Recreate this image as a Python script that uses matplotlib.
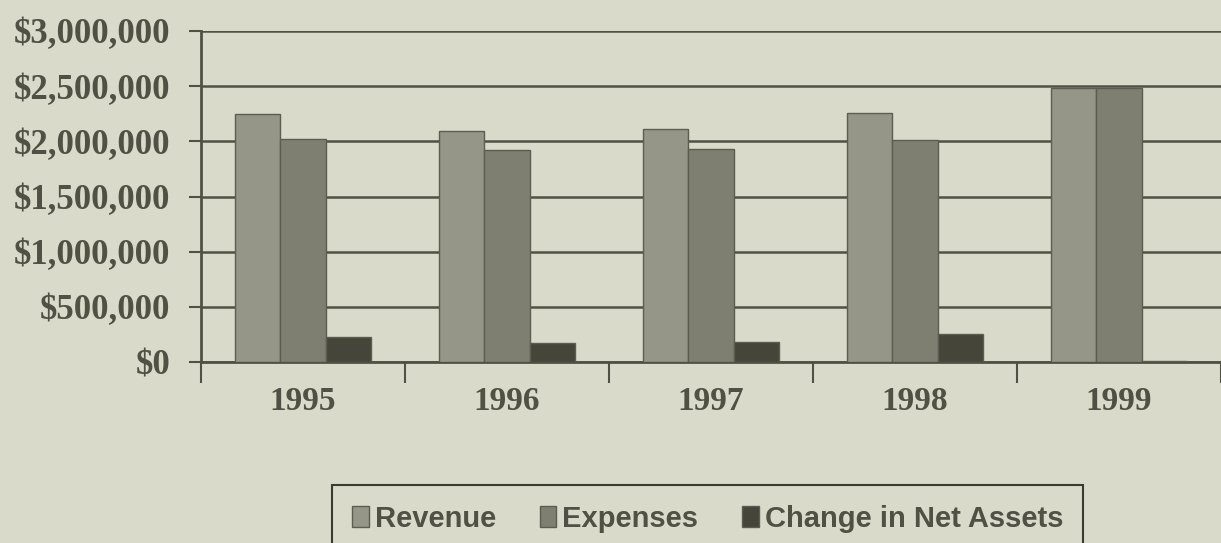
import matplotlib
matplotlib.use("Agg")
import matplotlib.pyplot as plt
import numpy as np
from matplotlib.ticker import FuncFormatter, FixedLocator

years = ["1995", "1996", "1997", "1998", "1999"]
revenue = [2250000, 2090000, 2110000, 2260000, 2480000]
expenses = [2020000, 1920000, 1930000, 2010000, 2480000]
change_net_assets = [230000, 170000, 180000, 250000, 10000]
series_names = ["Revenue", "Expenses", "Change in Net Assets"]

bg = "#dadaca"
ink = "#505044"
colors = ["#959688", "#7e7f71", "#45453a"]

fig = plt.figure(figsize=(12.21, 5.43), dpi=100, facecolor=bg)
ax = fig.add_axes([201/1221, 181/543, 1020/1221, 331/543])
ax.set_facecolor(bg)

x = np.arange(len(years))
w = 0.222
data = [revenue, expenses, change_net_assets]
handles = []
for k, (vals, c, name) in enumerate(zip(data, colors, series_names)):
    b = ax.bar(x + (k - 1) * w, vals, width=w, color=c, edgecolor="#5c5c50",
               linewidth=1.0, label=name, zorder=3)
    handles.append(b)

ax.set_xlim(-0.5, len(years) - 0.5)
ax.set_ylim(0, 3000000)
ax.yaxis.set_major_locator(FixedLocator(np.arange(0, 3000001, 500000)))
ax.yaxis.set_major_formatter(FuncFormatter(lambda v, p: f"${v:,.0f}"))
ax.grid(axis="y", color=ink, linewidth=1.8, zorder=0)
ax.set_axisbelow(True)

ax.set_xticks(x)
ax.set_xticklabels(years)
ax.set_xticks(np.arange(-0.5, len(years)), minor=True)
ax.tick_params(axis="x", which="major", length=0, pad=17)
ax.tick_params(axis="x", which="minor", length=15, width=1.5, color=ink, direction="out")
ax.tick_params(axis="y", length=9, width=1.5, color=ink, direction="out", pad=13)

serif = ["Liberation Serif", "DejaVu Serif"]
for lab in ax.get_yticklabels():
    lab.set_fontfamily(serif)
    lab.set_fontweight("bold")
    lab.set_fontsize(25)
    lab.set_color(ink)
for lab in ax.get_xticklabels():
    lab.set_fontfamily(serif)
    lab.set_fontweight("bold")
    lab.set_fontsize(24)
    lab.set_color(ink)

for s in ["top", "right"]:
    ax.spines[s].set_visible(False)
for s in ["left", "bottom"]:
    ax.spines[s].set_color(ink)
    ax.spines[s].set_linewidth(2.0)

leg = fig.legend(handles=handles, labels=series_names, loc="upper left",
                 bbox_to_anchor=(332/1221, 58/543), ncol=3, frameon=True,
                 fancybox=False, edgecolor="#3a3a30", facecolor=bg,
                 framealpha=1.0, handlelength=0.58, handleheight=0.7,
                 handletextpad=0.2, columnspacing=1.5, borderpad=0.68,
                 borderaxespad=0.0,
                 prop={"family": ["Liberation Sans", "DejaVu Sans"],
                       "weight": "bold", "size": 21})
leg.get_frame().set_linewidth(1.5)
for t in leg.get_texts():
    t.set_color(ink)

fig.savefig("out.png", dpi=100, facecolor=bg)
